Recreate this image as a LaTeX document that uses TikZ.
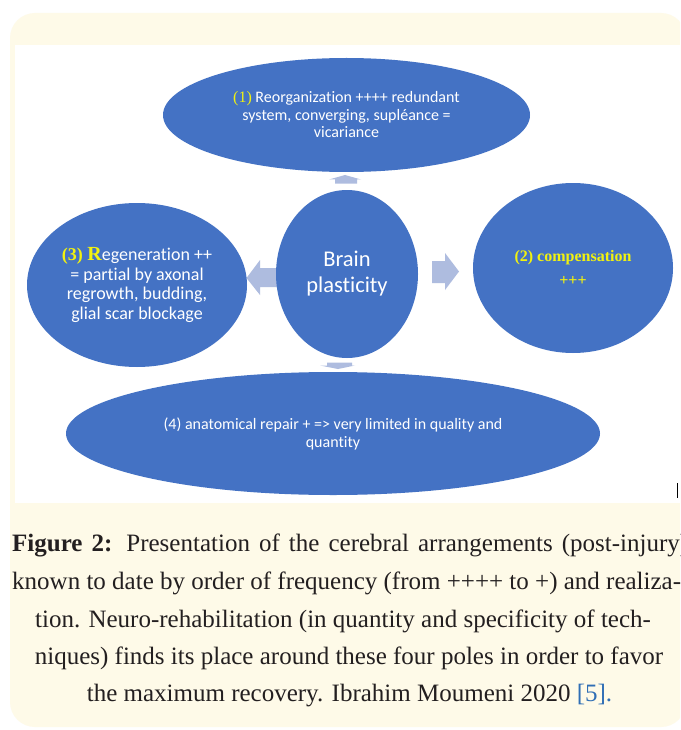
\documentclass[tikz,border=0pt]{standalone}
\usepackage{fontspec}
\setmainfont{Liberation Serif}
\newfontfamily\carl[Ligatures=NoCommon]{Carlito}
\usetikzlibrary{shapes.geometric}
\definecolor{cream}{HTML}{FEFAE8}
\definecolor{oblue}{HTML}{4472C4}
\definecolor{lightarr}{HTML}{AEBCDF}
\definecolor{ylw}{HTML}{F2F20F}
\definecolor{linkblue}{HTML}{2F6EB5}
\definecolor{captxt}{HTML}{231F20}
\tikzset{
  blob/.style={ellipse, fill=oblue, inner sep=0pt, outer sep=0pt, align=center, text=white},
  blockarr/.style={fill=lightarr},
  captline/.style={text=captxt, inner sep=0pt, font=\fontsize{25}{30}\selectfont}
}
\begin{document}
\begin{tikzpicture}[x=1pt,y=-1pt]
\useasboundingbox (0,0) rectangle (680,730);
\clip (0,0) rectangle (680,730);
\fill[white] (0,0) rectangle (680,730);
\fill[cream, rounded corners=25pt] (10,13) rectangle (686,727);
\fill[white] (15,45) rectangle (686,503);

% block arrows (drawn under the ellipses)
\fill[blockarr] (246.5,278) -- (260,260) -- (260,268) -- (282,268) -- (282,287) -- (260,287) -- (260,295) -- cycle;
\fill[blockarr] (432,261) -- (445,261) -- (445,253) -- (459,271.5) -- (445,290) -- (445,283) -- (432,283) -- cycle;
\fill[blockarr] (345,175) -- (361,179.5) -- (357,179.5) -- (357,183.5) -- (335,183.5) -- (335,179.5) -- (329,179.5) -- cycle;
\fill[blockarr] (327,362.5) -- (352,362.5) -- (352,365.5) -- (355,365.5) -- (338,369) -- (320,365.5) -- (327,365.5) -- cycle;

% ellipses
\node[blob, minimum width=367pt, minimum height=114pt, font=\carl\fontsize{16}{17.5}\selectfont] (reorg) at (346.5,115)
  {{\rmfamily\color{ylw}(1)} Reorganization ++++ redundant\\ system, converging, supléance =\\ vicariance};
\node[blob, minimum width=220pt, minimum height=164pt, font=\carl\fontsize{18}{19.5}\selectfont] (regen) at (137,285)
  {{\rmfamily\bfseries\color{ylw}(3) {\fontsize{20}{20}\selectfont R}}egeneration ++\\= partial by axonal\\regrowth, budding,\\glial scar blockage};
\node[blob, minimum width=142pt, minimum height=168pt, font=\carl\fontsize{22.5}{26}\selectfont] (brain) at (347,274)
  {Brain\\plasticity};
\node[blob, minimum width=200pt, minimum height=170pt, text=ylw, font=\rmfamily\bfseries\fontsize{16}{24}\selectfont] (comp) at (573,268)
  {(2) compensation\\+++};
\node[blob, minimum width=534pt, minimum height=123pt, font=\carl\fontsize{16}{18}\selectfont] (repair) at (333,433.5)
  {(4) anatomical repair + => very limited in quality and\\quantity};

% cursor mark
\fill[black] (676.5,483) rectangle (678,498);

% caption
\node[captline, anchor=base west] (cap1) at (12,551) {\makebox[676pt][s]{{\bfseries Figure 2:} Presentation of the cerebral arrangements (post-injury)}};
\node[captline, anchor=base west] (cap2) at (12,589) {known to date by order of frequency (from ++++ to +) and realiza-};
\node[captline, anchor=base] (cap3) at (343,627) {tion. Neuro-rehabilitation (in quantity and specificity of tech-};
\node[captline, anchor=base] (cap4) at (349,664) {niques) finds its place around these four poles in order to favor};
\node[captline, anchor=base] (cap5) at (349.5,701) {the maximum recovery. Ibrahim Moumeni 2020 {\color{linkblue}[5].}};
\end{tikzpicture}
\end{document}
